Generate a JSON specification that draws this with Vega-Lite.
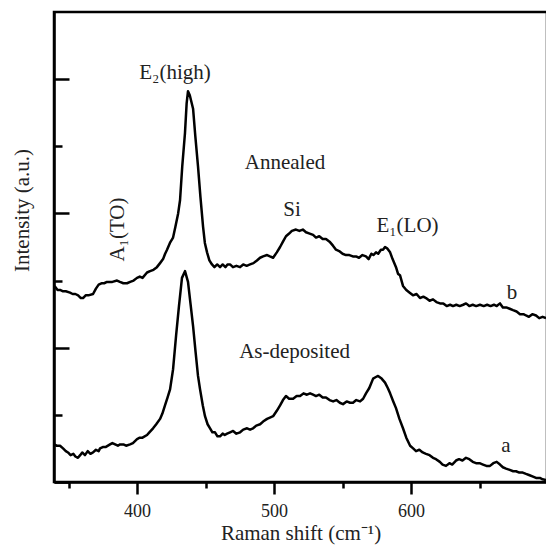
{
  "$schema": "https://vega.github.io/schema/vega-lite/v6.json",
  "width": 493,
  "height": 470,
  "autosize": {"type": "none"},
  "padding": {"left": 54, "top": 12, "right": 0, "bottom": 70},
  "background": "white",
  "config": {
    "view": {"stroke": "black", "strokeWidth": 2.5},
    "font": "Liberation Serif"
  },
  "datasets": {
    "spectra": [
      {"s":"a","x":339.4,"y":0.28},{"s":"a","x":341.5,"y":0.27},{"s":"a","x":343.8,"y":0.27},{"s":"a","x":346,"y":0.25},{"s":"a","x":348,"y":0.23},{"s":"a","x":349.6,"y":0.22},{"s":"a","x":351.5,"y":0.2},{"s":"a","x":353.5,"y":0.21},{"s":"a","x":355,"y":0.19},{"s":"a","x":356.9,"y":0.18},{"s":"a","x":358.5,"y":0.2},{"s":"a","x":360,"y":0.22},{"s":"a","x":362,"y":0.2},{"s":"a","x":364,"y":0.23},{"s":"a","x":366,"y":0.21},{"s":"a","x":367.9,"y":0.22},{"s":"a","x":370,"y":0.24},{"s":"a","x":372,"y":0.23},{"s":"a","x":373,"y":0.25},{"s":"a","x":375,"y":0.26},{"s":"a","x":377,"y":0.26},{"s":"a","x":380.3,"y":0.28},{"s":"a","x":382,"y":0.29},{"s":"a","x":384,"y":0.28},{"s":"a","x":386,"y":0.27},{"s":"a","x":387.6,"y":0.28},{"s":"a","x":390,"y":0.28},{"s":"a","x":392,"y":0.27},{"s":"a","x":394.9,"y":0.28},{"s":"a","x":397,"y":0.29},{"s":"a","x":400,"y":0.32},{"s":"a","x":402,"y":0.33},{"s":"a","x":404,"y":0.33},{"s":"a","x":407.3,"y":0.35},{"s":"a","x":409,"y":0.37},{"s":"a","x":411.7,"y":0.4},{"s":"a","x":414,"y":0.43},{"s":"a","x":416.8,"y":0.47},{"s":"a","x":418.5,"y":0.51},{"s":"a","x":420.4,"y":0.57},{"s":"a","x":422.3,"y":0.63},{"s":"a","x":424.1,"y":0.69},{"s":"a","x":426.3,"y":0.84},{"s":"a","x":428.5,"y":1.09},{"s":"a","x":430.6,"y":1.31},{"s":"a","x":432.8,"y":1.52},{"s":"a","x":435,"y":1.57},{"s":"a","x":437.2,"y":1.49},{"s":"a","x":439,"y":1.33},{"s":"a","x":440.9,"y":1.16},{"s":"a","x":442.7,"y":0.97},{"s":"a","x":444.5,"y":0.79},{"s":"a","x":446,"y":0.69},{"s":"a","x":448,"y":0.57},{"s":"a","x":449.6,"y":0.49},{"s":"a","x":451.5,"y":0.43},{"s":"a","x":453.3,"y":0.4},{"s":"a","x":455,"y":0.37},{"s":"a","x":456.9,"y":0.37},{"s":"a","x":458.7,"y":0.34},{"s":"a","x":460.6,"y":0.34},{"s":"a","x":462.5,"y":0.36},{"s":"a","x":464,"y":0.35},{"s":"a","x":465.7,"y":0.36},{"s":"a","x":467.9,"y":0.37},{"s":"a","x":470.1,"y":0.38},{"s":"a","x":472.5,"y":0.36},{"s":"a","x":475.2,"y":0.37},{"s":"a","x":477.5,"y":0.39},{"s":"a","x":480.3,"y":0.4},{"s":"a","x":482.5,"y":0.39},{"s":"a","x":484.7,"y":0.4},{"s":"a","x":487,"y":0.42},{"s":"a","x":489.8,"y":0.43},{"s":"a","x":492,"y":0.45},{"s":"a","x":494.9,"y":0.47},{"s":"a","x":497,"y":0.48},{"s":"a","x":499.3,"y":0.49},{"s":"a","x":502,"y":0.53},{"s":"a","x":504.4,"y":0.57},{"s":"a","x":506.5,"y":0.61},{"s":"a","x":508.7,"y":0.64},{"s":"a","x":511,"y":0.62},{"s":"a","x":513.9,"y":0.62},{"s":"a","x":516.5,"y":0.64},{"s":"a","x":519,"y":0.64},{"s":"a","x":521.5,"y":0.66},{"s":"a","x":524,"y":0.65},{"s":"a","x":526.3,"y":0.66},{"s":"a","x":528.5,"y":0.65},{"s":"a","x":530.6,"y":0.64},{"s":"a","x":533,"y":0.65},{"s":"a","x":535.5,"y":0.63},{"s":"a","x":537.9,"y":0.63},{"s":"a","x":540.5,"y":0.61},{"s":"a","x":543.1,"y":0.6},{"s":"a","x":545.5,"y":0.61},{"s":"a","x":548,"y":0.59},{"s":"a","x":550.3,"y":0.58},{"s":"a","x":553,"y":0.6},{"s":"a","x":555.5,"y":0.59},{"s":"a","x":557.6,"y":0.59},{"s":"a","x":560,"y":0.61},{"s":"a","x":562.8,"y":0.6},{"s":"a","x":565,"y":0.62},{"s":"a","x":567.1,"y":0.66},{"s":"a","x":569.5,"y":0.7},{"s":"a","x":572.3,"y":0.77},{"s":"a","x":574,"y":0.78},{"s":"a","x":575.9,"y":0.79},{"s":"a","x":578.5,"y":0.77},{"s":"a","x":581,"y":0.74},{"s":"a","x":583,"y":0.7},{"s":"a","x":584.7,"y":0.66},{"s":"a","x":587,"y":0.6},{"s":"a","x":589,"y":0.55},{"s":"a","x":591.5,"y":0.47},{"s":"a","x":594.1,"y":0.4},{"s":"a","x":596.5,"y":0.33},{"s":"a","x":599.3,"y":0.27},{"s":"a","x":601.5,"y":0.25},{"s":"a","x":603.6,"y":0.23},{"s":"a","x":606,"y":0.24},{"s":"a","x":608.5,"y":0.22},{"s":"a","x":610.9,"y":0.21},{"s":"a","x":613.5,"y":0.2},{"s":"a","x":616,"y":0.18},{"s":"a","x":618.2,"y":0.17},{"s":"a","x":621,"y":0.15},{"s":"a","x":623,"y":0.13},{"s":"a","x":625.5,"y":0.12},{"s":"a","x":628,"y":0.14},{"s":"a","x":630,"y":0.13},{"s":"a","x":632.8,"y":0.16},{"s":"a","x":635,"y":0.17},{"s":"a","x":637.5,"y":0.16},{"s":"a","x":640.1,"y":0.18},{"s":"a","x":642.5,"y":0.17},{"s":"a","x":645,"y":0.15},{"s":"a","x":647.4,"y":0.14},{"s":"a","x":650,"y":0.14},{"s":"a","x":652.5,"y":0.13},{"s":"a","x":655,"y":0.12},{"s":"a","x":657.6,"y":0.12},{"s":"a","x":660,"y":0.14},{"s":"a","x":662.5,"y":0.15},{"s":"a","x":664.9,"y":0.13},{"s":"a","x":667,"y":0.11},{"s":"a","x":669.3,"y":0.1},{"s":"a","x":672,"y":0.09},{"s":"a","x":674.5,"y":0.08},{"s":"a","x":676.6,"y":0.08},{"s":"a","x":679,"y":0.07},{"s":"a","x":681.5,"y":0.07},{"s":"a","x":683.9,"y":0.06},{"s":"a","x":686.5,"y":0.05},{"s":"a","x":689,"y":0.04},{"s":"a","x":691.2,"y":0.03},{"s":"a","x":694,"y":0.03},{"s":"a","x":696,"y":0.02},{"s":"a","x":698.5,"y":0.015},
      {"s":"b","x":339.4,"y":1.46},{"s":"b","x":340.5,"y":1.45},{"s":"b","x":342,"y":1.43},{"s":"b","x":343.8,"y":1.43},{"s":"b","x":346,"y":1.42},{"s":"b","x":348,"y":1.42},{"s":"b","x":351.1,"y":1.41},{"s":"b","x":353,"y":1.4},{"s":"b","x":355,"y":1.4},{"s":"b","x":357,"y":1.39},{"s":"b","x":359,"y":1.37},{"s":"b","x":360.6,"y":1.37},{"s":"b","x":362.5,"y":1.39},{"s":"b","x":364.5,"y":1.39},{"s":"b","x":367.9,"y":1.4},{"s":"b","x":370,"y":1.44},{"s":"b","x":372,"y":1.47},{"s":"b","x":374,"y":1.48},{"s":"b","x":376,"y":1.48},{"s":"b","x":378.1,"y":1.49},{"s":"b","x":380,"y":1.49},{"s":"b","x":382,"y":1.49},{"s":"b","x":385.4,"y":1.5},{"s":"b","x":387.5,"y":1.49},{"s":"b","x":390,"y":1.48},{"s":"b","x":392.7,"y":1.48},{"s":"b","x":395,"y":1.49},{"s":"b","x":397.5,"y":1.5},{"s":"b","x":400,"y":1.52},{"s":"b","x":402,"y":1.53},{"s":"b","x":404,"y":1.52},{"s":"b","x":407.3,"y":1.56},{"s":"b","x":409.5,"y":1.57},{"s":"b","x":412,"y":1.58},{"s":"b","x":414.5,"y":1.6},{"s":"b","x":416.8,"y":1.63},{"s":"b","x":419,"y":1.66},{"s":"b","x":420.5,"y":1.7},{"s":"b","x":421.9,"y":1.73},{"s":"b","x":424,"y":1.78},{"s":"b","x":426.3,"y":1.82},{"s":"b","x":428,"y":1.9},{"s":"b","x":430,"y":2.0},{"s":"b","x":431.4,"y":2.1},{"s":"b","x":433,"y":2.35},{"s":"b","x":435,"y":2.6},{"s":"b","x":436.2,"y":2.82},{"s":"b","x":437.2,"y":2.91},{"s":"b","x":438.5,"y":2.88},{"s":"b","x":440.9,"y":2.78},{"s":"b","x":442.5,"y":2.58},{"s":"b","x":444.5,"y":2.35},{"s":"b","x":446.3,"y":2.12},{"s":"b","x":448.2,"y":1.9},{"s":"b","x":449.5,"y":1.78},{"s":"b","x":451.1,"y":1.71},{"s":"b","x":452.8,"y":1.65},{"s":"b","x":454.7,"y":1.62},{"s":"b","x":456.5,"y":1.6},{"s":"b","x":458.5,"y":1.62},{"s":"b","x":460.6,"y":1.6},{"s":"b","x":462.5,"y":1.62},{"s":"b","x":464.5,"y":1.6},{"s":"b","x":466,"y":1.62},{"s":"b","x":467.9,"y":1.62},{"s":"b","x":470,"y":1.6},{"s":"b","x":472.5,"y":1.61},{"s":"b","x":475.2,"y":1.6},{"s":"b","x":477.5,"y":1.62},{"s":"b","x":480,"y":1.61},{"s":"b","x":482.5,"y":1.62},{"s":"b","x":485,"y":1.63},{"s":"b","x":487.5,"y":1.65},{"s":"b","x":489.8,"y":1.67},{"s":"b","x":492,"y":1.68},{"s":"b","x":494.9,"y":1.69},{"s":"b","x":497,"y":1.68},{"s":"b","x":499.3,"y":1.67},{"s":"b","x":502,"y":1.71},{"s":"b","x":504.4,"y":1.75},{"s":"b","x":506.5,"y":1.79},{"s":"b","x":508.7,"y":1.83},{"s":"b","x":511,"y":1.85},{"s":"b","x":513,"y":1.87},{"s":"b","x":516,"y":1.88},{"s":"b","x":518.5,"y":1.87},{"s":"b","x":521,"y":1.88},{"s":"b","x":523.3,"y":1.86},{"s":"b","x":526,"y":1.85},{"s":"b","x":528.5,"y":1.84},{"s":"b","x":530.6,"y":1.82},{"s":"b","x":533,"y":1.83},{"s":"b","x":535.5,"y":1.81},{"s":"b","x":537.9,"y":1.81},{"s":"b","x":540.5,"y":1.79},{"s":"b","x":543,"y":1.76},{"s":"b","x":545.2,"y":1.73},{"s":"b","x":547.5,"y":1.72},{"s":"b","x":550,"y":1.7},{"s":"b","x":552.5,"y":1.69},{"s":"b","x":555,"y":1.69},{"s":"b","x":557.5,"y":1.68},{"s":"b","x":559.8,"y":1.68},{"s":"b","x":562,"y":1.67},{"s":"b","x":564.5,"y":1.69},{"s":"b","x":567.1,"y":1.68},{"s":"b","x":569,"y":1.66},{"s":"b","x":571,"y":1.7},{"s":"b","x":572.5,"y":1.69},{"s":"b","x":574.4,"y":1.71},{"s":"b","x":576,"y":1.7},{"s":"b","x":578,"y":1.73},{"s":"b","x":579.5,"y":1.73},{"s":"b","x":581,"y":1.75},{"s":"b","x":582.5,"y":1.74},{"s":"b","x":584.7,"y":1.71},{"s":"b","x":586.5,"y":1.66},{"s":"b","x":589,"y":1.6},{"s":"b","x":590.5,"y":1.55},{"s":"b","x":591.9,"y":1.54},{"s":"b","x":594.1,"y":1.46},{"s":"b","x":596.5,"y":1.43},{"s":"b","x":599,"y":1.41},{"s":"b","x":601.4,"y":1.39},{"s":"b","x":604,"y":1.4},{"s":"b","x":606.5,"y":1.37},{"s":"b","x":609,"y":1.38},{"s":"b","x":610.9,"y":1.37},{"s":"b","x":613.5,"y":1.35},{"s":"b","x":616,"y":1.36},{"s":"b","x":618.5,"y":1.34},{"s":"b","x":621.1,"y":1.33},{"s":"b","x":623.5,"y":1.33},{"s":"b","x":626,"y":1.31},{"s":"b","x":628.5,"y":1.32},{"s":"b","x":630.6,"y":1.31},{"s":"b","x":633,"y":1.32},{"s":"b","x":635.5,"y":1.31},{"s":"b","x":638,"y":1.32},{"s":"b","x":640.1,"y":1.33},{"s":"b","x":642.5,"y":1.31},{"s":"b","x":645,"y":1.32},{"s":"b","x":647.5,"y":1.31},{"s":"b","x":650.3,"y":1.32},{"s":"b","x":653,"y":1.31},{"s":"b","x":655.5,"y":1.32},{"s":"b","x":658,"y":1.31},{"s":"b","x":660.5,"y":1.32},{"s":"b","x":662.5,"y":1.31},{"s":"b","x":664.9,"y":1.33},{"s":"b","x":667,"y":1.3},{"s":"b","x":669.5,"y":1.3},{"s":"b","x":672,"y":1.29},{"s":"b","x":674.4,"y":1.28},{"s":"b","x":677,"y":1.27},{"s":"b","x":679.5,"y":1.25},{"s":"b","x":682,"y":1.25},{"s":"b","x":683.9,"y":1.24},{"s":"b","x":686,"y":1.23},{"s":"b","x":688.5,"y":1.25},{"s":"b","x":691.2,"y":1.24},{"s":"b","x":693.5,"y":1.22},{"s":"b","x":696,"y":1.23},{"s":"b","x":698.5,"y":1.22}
    ],
    "labels": [
      {"x":427.7,"y":3.0,"t":"E₂(high)"},
      {"x":508.0,"y":2.33,"t":"Annealed"},
      {"x":513.1,"y":1.98,"t":"Si"},
      {"x":597.4,"y":1.86,"t":"E₁(LO)"},
      {"x":515.0,"y":0.925,"t":"As-deposited"},
      {"x":673.7,"y":1.36,"t":"b"},
      {"x":669.3,"y":0.22,"t":"a"}
    ],
    "vlabels": [
      {"x":386.1,"y":1.88,"t":"A₁(TO)"}
    ]
  },
  "layer": [
    {
      "data": {"name": "spectra"},
      "mark": {"type": "line", "color": "black", "strokeWidth": 2.5, "strokeJoin": "round"},
      "encoding": {
        "x": {
          "field": "x", "type": "quantitative",
          "scale": {"domain": [339.4, 699.2], "nice": false, "zero": false},
          "axis": {
            "values": [350, 400, 450, 500, 550, 600, 650],
            "labelExpr": "datum.value % 100 === 0 ? datum.label : ''",
            "tickSize": {"condition": {"test": "datum.value % 100 === 0", "value": 12}, "value": 6},
            "tickWidth": 2.5, "tickColor": "black",
            "domainWidth": 2.5, "domainColor": "black",
            "grid": false,
            "labelFont": "Liberation Serif", "labelFontSize": 18, "labelColor": "#222", "labelPadding": 8,
            "title": "Raman shift (cm⁻¹)",
            "titleFont": "Liberation Serif", "titleFontSize": 21, "titleFontWeight": "normal", "titleColor": "#222", "titlePadding": 2
          }
        },
        "y": {
          "field": "y", "type": "quantitative",
          "scale": {"domain": [0, 3.5], "nice": false},
          "axis": {
            "values": [0, 0.5, 1, 1.5, 2, 2.5, 3],
            "labels": false,
            "tickSize": {"condition": {"test": "datum.value % 1 === 0", "value": -15}, "value": -8},
            "tickWidth": 2.5, "tickColor": "black",
            "domainWidth": 2.5, "domainColor": "black",
            "grid": false,
            "title": "Intensity (a.u.)",
            "titleFont": "Liberation Serif", "titleFontSize": 21, "titleFontWeight": "normal", "titleColor": "#222",
            "titleX": -32, "titleY": 198, "titleAngle": 270, "titleAlign": "center", "titleBaseline": "middle"
          }
        },
        "detail": {"field": "s"}
      }
    },
    {
      "data": {"name": "labels"},
      "mark": {"type": "text", "font": "Liberation Serif", "fontSize": 21, "color": "#222", "align": "center", "baseline": "alphabetic"},
      "encoding": {
        "x": {"field": "x", "type": "quantitative"},
        "y": {"field": "y", "type": "quantitative"},
        "text": {"field": "t"}
      }
    },
    {
      "data": {"name": "vlabels"},
      "mark": {"type": "text", "font": "Liberation Serif", "fontSize": 21, "color": "#222", "align": "center", "baseline": "middle", "angle": 270},
      "encoding": {
        "x": {"field": "x", "type": "quantitative"},
        "y": {"field": "y", "type": "quantitative"},
        "text": {"field": "t"}
      }
    }
  ]
}
